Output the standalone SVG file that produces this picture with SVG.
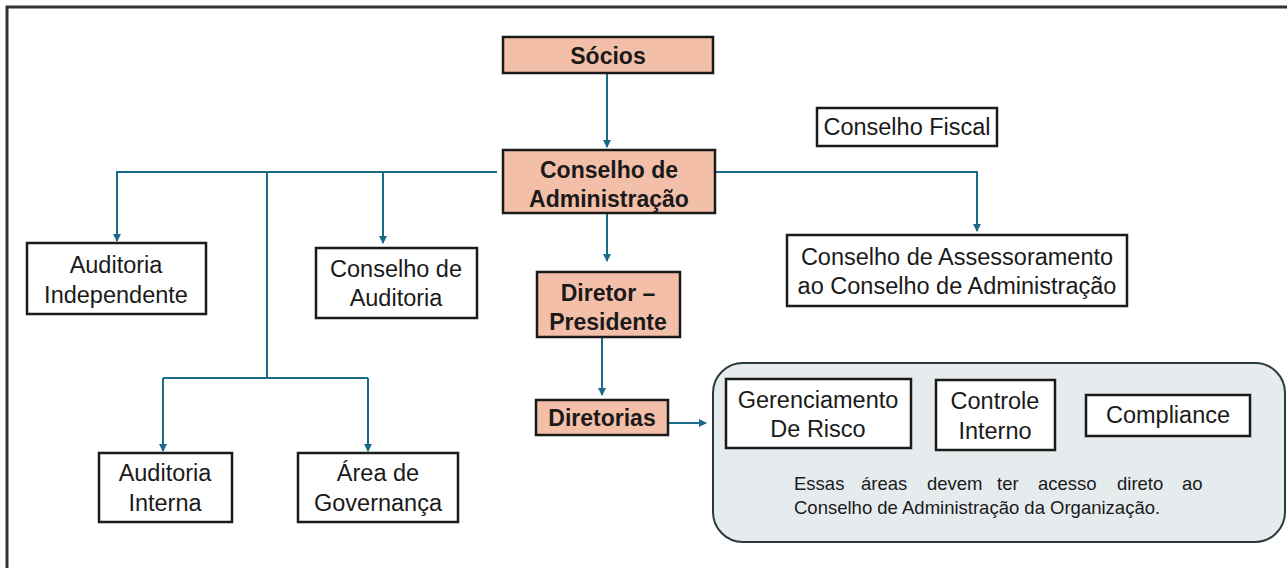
<svg xmlns="http://www.w3.org/2000/svg" width="1287" height="568" viewBox="0 0 1287 568">
<defs>
<marker id="ah" markerWidth="8" markerHeight="8" refX="7" refY="4" orient="auto" markerUnits="userSpaceOnUse">
<path d="M0,0 L8,4 L0,8 z" fill="#1c6a8a"/>
</marker>
<style>
.box{fill:#fff;stroke:#1a1a1a;stroke-width:2.5}
.hl{fill:#f4bfa8;stroke:#1a1a1a;stroke-width:2.5}
.t{font-family:"Liberation Sans",Arial,sans-serif;font-size:23.5px;fill:#1a1a1a;text-anchor:middle}
.b{font-weight:bold;font-size:23px}
.s{font-family:"Liberation Sans",Arial,sans-serif;font-size:18.5px;fill:#1a1a1a}
.c{fill:none;stroke:#1c6a8a;stroke-width:2}
</style>
</defs>
<rect width="1287" height="568" fill="#fff"/>
<rect x="7" y="7" width="1300" height="600" fill="none" stroke="#333" stroke-width="3"/>
<g id="connectors">
<path class="c" d="M607,73 V147" marker-end="url(#ah)"/>
<path class="c" d="M497,172 H117 V241" marker-end="url(#ah)"/>
<path class="c" d="M383,172 V243" marker-end="url(#ah)"/>
<path class="c" d="M267,172 V378"/>
<path class="c" d="M163,378 H368"/>
<path class="c" d="M163,378 V451" marker-end="url(#ah)"/>
<path class="c" d="M368,378 V451" marker-end="url(#ah)"/>
<path class="c" d="M715,172 H977 V231" marker-end="url(#ah)"/>
<path class="c" d="M607,213 V261" marker-end="url(#ah)"/>
<path class="c" d="M602,337 V395" marker-end="url(#ah)"/>
<path class="c" d="M668,423 H706" marker-end="url(#ah)"/>
</g>
<g id="socios"><rect class="hl" x="503" y="37" width="210" height="36"/><text class="t b" x="608" y="64">Sócios</text></g>
<g id="conselho-admin"><rect class="hl" x="503" y="150" width="212" height="63"/><text class="t b" x="609" y="178">Conselho de</text><text class="t b" x="609" y="207">Administração</text></g>
<g id="conselho-fiscal"><rect class="box" x="817" y="108" width="180" height="38"/><text class="t" x="907" y="135">Conselho Fiscal</text></g>
<g id="auditoria-independente"><rect class="box" x="27" y="243" width="179" height="71"/><text class="t" x="116" y="273">Auditoria</text><text class="t" x="116" y="303">Independente</text></g>
<g id="conselho-auditoria"><rect class="box" x="316" y="248" width="161" height="70"/><text class="t" x="396" y="277">Conselho de</text><text class="t" x="396" y="306">Auditoria</text></g>
<g id="diretor-presidente"><rect class="hl" x="537" y="272" width="143" height="65"/><text class="t b" x="608" y="301">Diretor –</text><text class="t b" x="608" y="330">Presidente</text></g>
<g id="conselho-assessoramento"><rect class="box" x="787" y="235" width="340" height="71"/><text class="t" x="957" y="265">Conselho de Assessoramento</text><text class="t" x="957" y="294">ao Conselho de Administração</text></g>
<g id="diretorias"><rect class="hl" x="536" y="400" width="132" height="35"/><text class="t b" x="602" y="426">Diretorias</text></g>
<g id="auditoria-interna"><rect class="box" x="99" y="453" width="133" height="69"/><text class="t" x="165" y="481">Auditoria</text><text class="t" x="165" y="511">Interna</text></g>
<g id="area-governanca"><rect class="box" x="298" y="453" width="160" height="69"/><text class="t" x="378" y="481">Área de</text><text class="t" x="378" y="511">Governança</text></g>
<g id="grupo-areas">
<rect x="713" y="363" width="572" height="179" rx="30" fill="#e6ecee" stroke="#2b3a40" stroke-width="2"/>
<g id="gerenciamento-risco"><rect class="box" x="726" y="379" width="185" height="69"/><text class="t" x="818" y="408">Gerenciamento</text><text class="t" x="818" y="437">De Risco</text></g>
<g id="controle-interno"><rect class="box" x="936" y="380" width="119" height="70"/><text class="t" x="995" y="409">Controle</text><text class="t" x="995" y="439">Interno</text></g>
<g id="compliance"><rect class="box" x="1086" y="395" width="164" height="41"/><text class="t" x="1168" y="423">Compliance</text></g>
<text class="s" y="490"><tspan x="794">Essas</tspan><tspan x="861">áreas</tspan><tspan x="927">devem</tspan><tspan x="997">ter</tspan><tspan x="1038">acesso</tspan><tspan x="1117">direto</tspan><tspan x="1182">ao</tspan></text>
<text class="s" x="794" y="514">Conselho de Administração da Organização.</text>
</g>
</svg>
